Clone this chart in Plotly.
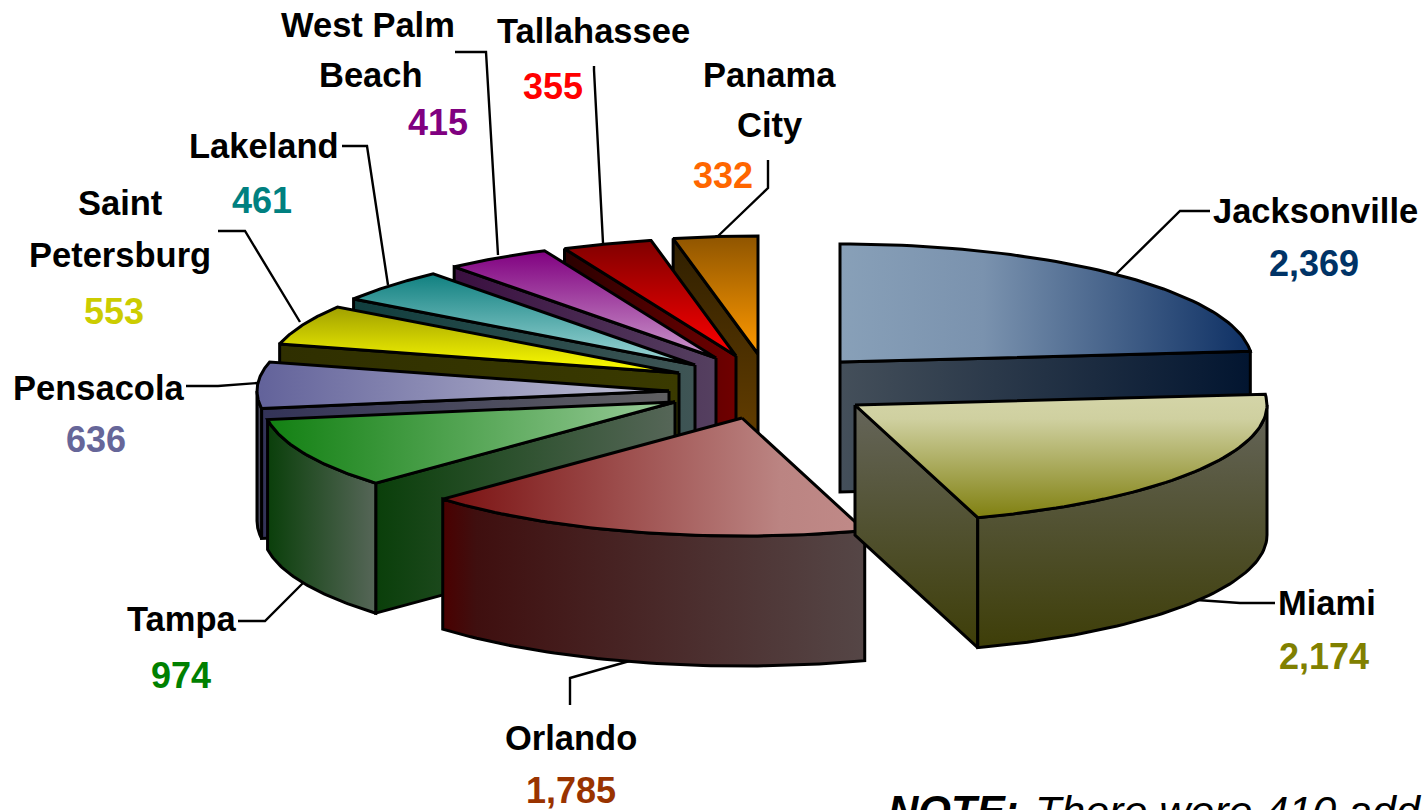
import math
import numpy as np
import plotly.graph_objects as go

# ---- data ----
cities = ["Jacksonville", "Miami", "Orlando", "Tampa", "Pensacola",
          "Saint Petersburg", "Lakeland", "West Palm Beach", "Tallahassee", "Panama City"]
values = [2369, 2174, 1785, 974, 636, 553, 461, 415, 355, 332]
value_text = ["2,369", "2,174", "1,785", "974", "636", "553", "461", "415", "355", "332"]

# ---- styling / layout (explosion of each slice, in canvas pixels) ----
apex_x = [840, 855, 742, 675, 669, 679, 695, 716, 736, 758]
apex_y = [362, 405, 418, 402, 391, 373, 365, 358, 356, 354]
RX, RY, DEPTH = 412, 118, 130
draw_order = [0, 9, 8, 7, 6, 5, 4, 3, 2, 1]

# vertical gradients are listed from the top of the face to its bottom
top_grad = [
    ("horizontal", [[0, "#88a0b8"], [0.35, "#7a92ae"], [1, "#0e3064"]]),
    ("vertical", [[0, "#d4d5a8"], [0.2, "#cfd0a0"], [1, "#808010"]]),
    ("horizontal", [[0, "#7a1010"], [0.8, "#bb8482"], [1, "#c08a88"]]),
    ("horizontal", [[0, "#128012"], [1, "#9acc9a"]]),
    ("horizontal", [[0, "#62629a"], [1, "#c4c4d8"]]),
    ("vertical", [[0, "#a0a000"], [1, "#ffff00"]]),
    ("vertical", [[0, "#108080"], [1, "#a0d8d8"]]),
    ("vertical", [[0, "#800080"], [1, "#cc99cc"]]),
    ("vertical", [[0, "#800000"], [1, "#ff0000"]]),
    ("vertical", [[0, "#8f5500"], [1, "#ff9900"]]),
]
side_grad = [
    ("horizontal", [[0, "#444f5a"], [1, "#021530"]]),
    ("vertical", [[0, "#65655a"], [1, "#3e3e08"]]),
    ("horizontal", [[0, "#4a0000"], [0.08, "#3f0f0f"], [1, "#554646"]]),
    ("horizontal", [[0, "#0a3f0a"], [1, "#566658"]]),
    ("horizontal", [[0, "#333358"], [1, "#606062"]]),
    ("horizontal", [[0, "#2f2f00"], [1, "#3a3a00"]]),
    ("horizontal", [[0, "#103e3e"], [1, "#3f5555"]]),
    ("horizontal", [[0, "#3a0f40"], [1, "#554060"]]),
    ("horizontal", [[0, "#2a0000"], [1, "#700000"]]),
    ("vertical", [[0, "#2f1f00"], [1, "#6f4400"]]),
]

label_color = ["#003366", "#808000", "#993300", "#008000", "#666699",
               "#cccc00", "#008080", "#800080", "#ff0000", "#ff6600"]
name_lines = [["Jacksonville"], ["Miami"], ["Orlando"], ["Tampa"], ["Pensacola"],
              ["Saint", "Petersburg"], ["Lakeland"], ["West Palm", "Beach"],
              ["Tallahassee"], ["Panama", "City"]]
name_pos = [[(1315, 211)], [(1327, 603)], [(571, 738)], [(181, 619)], [(98, 388)],
            [(120, 203), (120, 255)], [(264, 146)], [(368, 25), (371, 75)],
            [(593, 31)], [(769, 75), (769, 125)]]
value_pos = [(1314, 263), (1324, 656), (571, 790), (181, 675), (96, 439),
             (114, 311), (262, 200), (438, 122), (553, 86), (723, 175)]
leaders = [
    [(1210, 211), (1180, 211), (1116, 274)],
    [(1275, 603), (1240, 603), (1197, 600)],
    [(570, 705), (570, 678), (640, 658)],
    [(238, 621), (265, 621), (306, 580)],
    [(186, 386), (218, 386), (258, 383)],
    [(218, 231), (245, 231), (300, 322)],
    [(342, 146), (367, 146), (388, 285)],
    [(455, 52), (486, 52), (498, 255)],
    [(594, 66), (594, 70), (603, 243)],
    [(768, 160), (768, 188), (716, 238)],
]

FONT = "Liberation Sans, Arial, sans-serif"
fig = go.Figure()


def poly(xs, ys, grad):
    kind, stops = grad
    if kind == "vertical":  # the y axis runs downwards, so the scale is mirrored
        stops = [[1 - p, c] for p, c in reversed(stops)]
    fig.add_trace(go.Scatter(
        x=list(xs) + [xs[0]], y=list(ys) + [ys[0]], mode="lines", fill="toself",
        line=dict(color="black", width=3),
        fillgradient=dict(type=kind, colorscale=stops),
        hoverinfo="skip", showlegend=False))


for pts in leaders:
    fig.add_trace(go.Scatter(x=[p[0] for p in pts], y=[p[1] for p in pts], mode="lines",
                             line=dict(color="black", width=2.4),
                             hoverinfo="skip", showlegend=False))

total = sum(values)
edges = np.concatenate([[0], np.cumsum(values)]) * 360.0 / total


def arc(ax, ay, a0, a1, dz=0):
    t = np.radians(np.linspace(a0, a1, 60))
    return ax + RX * np.sin(t), ay - RY * np.cos(t) + dz


for i in draw_order:
    a0, a1 = edges[i], edges[i + 1]
    ax, ay = apex_x[i], apex_y[i]
    sx, sy = arc(ax, ay, a0, a0)
    ex, ey = arc(ax, ay, a1, a1)
    # radial wall on the starting edge
    if math.sin(math.radians(a0)) < 0:
        poly([ax, sx[0], sx[0], ax], [ay, sy[0], sy[0] + DEPTH, ay + DEPTH], side_grad[i])
    # radial wall on the finishing edge
    if math.sin(math.radians(a1)) > 0:
        poly([ax, ex[0], ex[0], ax], [ay, ey[0], ey[0] + DEPTH, ay + DEPTH], side_grad[i])
    # rim wall, only the part turned towards the viewer
    lo, hi = max(a0, 90), min(a1, 270)
    if hi > lo:
        tx, ty = arc(ax, ay, lo, hi)
        bx, by = arc(ax, ay, hi, lo, DEPTH)
        poly(np.concatenate([tx, bx]), np.concatenate([ty, by]), side_grad[i])
    # top face
    tx, ty = arc(ax, ay, a0, a1)
    poly(np.concatenate([[ax], tx]), np.concatenate([[ay], ty]), top_grad[i])

annotations = []
for i in range(len(cities)):
    for line, (x, y) in zip(name_lines[i], name_pos[i]):
        annotations.append(dict(x=x, y=y, text=f"<b>{line}</b>", showarrow=False,
                                xanchor="center", yanchor="middle",
                                font=dict(family=FONT, size=34.5, color="black")))
    annotations.append(dict(x=value_pos[i][0], y=value_pos[i][1], text=f"<b>{value_text[i]}</b>",
                            showarrow=False, xanchor="center", yanchor="middle",
                            font=dict(family=FONT, size=36, color=label_color[i])))
annotations.append(dict(x=886, y=785, text="<b><i>NOTE:</i></b>",
                        showarrow=False, xanchor="left", yanchor="top",
                        font=dict(family=FONT, size=42, color="black")))
annotations.append(dict(x=1033, y=785, text="<i>There were 410 additional</i>",
                        showarrow=False, xanchor="left", yanchor="top",
                        font=dict(family=FONT, size=43, color="black")))

fig.update_layout(
    width=1423, height=810, margin=dict(l=0, r=0, t=0, b=0),
    paper_bgcolor="white", plot_bgcolor="white", showlegend=False,
    xaxis=dict(range=[0, 1423], visible=False, fixedrange=True),
    yaxis=dict(range=[810, 0], visible=False, fixedrange=True),
    annotations=annotations, hovermode=False,
)
fig.write_html("out.html", config={"displayModeBar": False},
               post_script="document.body.style.margin='0';document.body.style.overflow='hidden';")
